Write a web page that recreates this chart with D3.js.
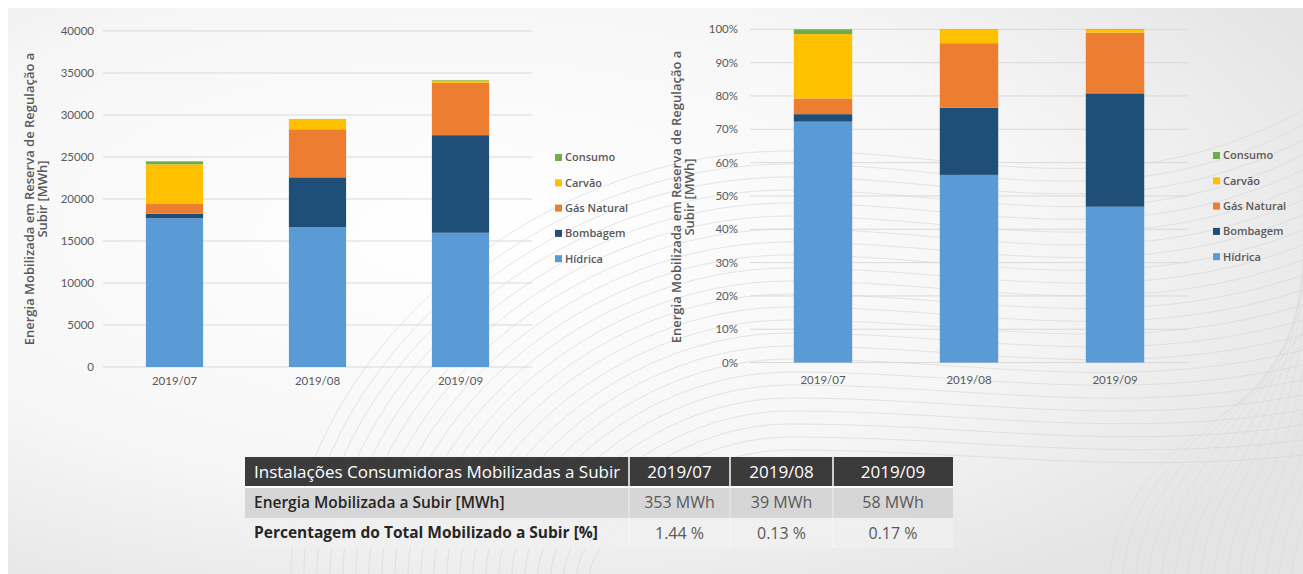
<!DOCTYPE html>
<html><head><meta charset="utf-8">
<script src="https://cdn.jsdelivr.net/npm/d3@7"></script>
<style>
html,body{margin:0;padding:0;background:#fff;}
svg{display:block;font-family:Lato,"Open Sans",sans-serif;}
</style></head>
<body>
<svg id="chart" width="1303" height="574"></svg>
<script>
// ---- data ----
const categories = ["2019/07", "2019/08", "2019/09"];
const seriesNames = ["Hídrica", "Bombagem", "Gás Natural", "Carvão", "Consumo"];
const hidrica    = [17700, 16630, 15980];
const bombagem   = [550, 5950, 11620];
const gasNatural = [1150, 5720, 6230];
const carvao     = [4730, 1190, 280];
const consumo    = [353, 39, 58];
const absTicks = [0, 5000, 10000, 15000, 20000, 25000, 30000, 35000, 40000];
const pctTicks = [0, 0.1, 0.2, 0.3, 0.4, 0.5, 0.6, 0.7, 0.8, 0.9, 1.0];
const yAxisTitle = ["Energia Mobilizada em Reserva de Regulação a", "Subir [MWh]"];
const tableHeader = ["Instalações Consumidoras Mobilizadas a Subir", "2019/07", "2019/08", "2019/09"];
const tableRowLabels = ["Energia Mobilizada a Subir [MWh]", "Percentagem do Total Mobilizado a Subir [%]"];
const energiaConsumo = ["353 MWh", "39 MWh", "58 MWh"];
const percentConsumo = ["1.44 %", "0.13 %", "0.17 %"];

const colors = {"Hídrica":"#5b9bd5","Bombagem":"#1f4e79","Gás Natural":"#ed7d31","Carvão":"#ffc000","Consumo":"#70ad47"};
const seriesValues = [hidrica, bombagem, gasNatural, carvao, consumo];

const rows = categories.map((c, i) => {
  const r = {cat: c};
  seriesNames.forEach((s, k) => r[s] = seriesValues[k][i]);
  return r;
});
const totals = rows.map(r => d3.sum(seriesNames, s => r[s]));
const pctRows = rows.map((r, i) => {
  const o = {cat: r.cat};
  seriesNames.forEach(s => o[s] = r[s] / totals[i]);
  return o;
});

const svg = d3.select("#chart");
const txt = "#595959";

// ---- background ----
const defs = svg.append("defs");
const rg = defs.append("radialGradient").attr("id","bg").attr("cx","35%").attr("cy","40%").attr("r","75%");
rg.append("stop").attr("offset","0%").attr("stop-color","#ffffff");
rg.append("stop").attr("offset","60%").attr("stop-color","#f6f6f6");
rg.append("stop").attr("offset","100%").attr("stop-color","#e4e4e4");
svg.append("rect").attr("x",8).attr("y",8).attr("width",1295).attr("height",566).attr("fill","url(#bg)");

// decorative curves (background ornament)
const deco = svg.append("g").attr("fill","none").attr("stroke","#d6d6d6").attr("stroke-width",0.8);
d3.range(0, 24).forEach(i => {
  const r = 200 + i * 13;
  const cx = 790, cy = 650;
  const top = cy - r;
  deco.append("path").attr("d",
    `M${cx - r},574 C${cx - r},${cy - r*0.55} ${cx - r*0.55},${top} ${cx},${top} C${cx + 180},${top} ${cx + 330},${top + 25 + i*1.5} 1303,${top + 5 - i*2}`)
    .attr("opacity", 0.8);
});
d3.range(0, 16).forEach(i => {
  const x0 = 1110 + i * 13;
  deco.append("path").attr("d", `M${x0},574 C${x0 + 10},470 ${x0 + 90},430 1303,${360 - i*14}`).attr("opacity",0.6);
});

// ---- stacked chart helper ----
function drawChart(opts) {
  const g = svg.append("g");
  const x = d3.scaleBand().domain(categories).range(opts.xr).paddingInner(0.6).paddingOuter(0.3);
  const y = d3.scaleLinear().domain(opts.yd).range(opts.yr);
  g.append("g").selectAll("line").data(opts.ticks).join("line")
    .attr("x1", opts.xr[0]).attr("x2", opts.xr[1])
    .attr("y1", d => y(d)).attr("y2", d => y(d))
    .attr("stroke", "#d9d9d9").attr("stroke-width", 1);
  const ya = d3.axisLeft(y).tickValues(opts.ticks).tickFormat(opts.fmt).tickSize(0).tickPadding(0);
  const yg = g.append("g").attr("transform", `translate(${opts.labelX},0)`).call(ya);
  yg.select(".domain").remove();
  yg.selectAll("text").attr("fill", txt).attr("font-size", 11.5).attr("font-family","Lato");
  const stack = d3.stack().keys(seriesNames)(opts.data);
  g.append("g").selectAll("g").data(stack).join("g")
    .attr("fill", d => colors[d.key])
    .selectAll("rect").data(d => d).join("rect")
    .attr("x", d => x(d.data.cat)).attr("width", x.bandwidth())
    .attr("y", d => y(d[1])).attr("height", d => Math.max(0, y(d[0]) - y(d[1])));
  const xa = d3.axisBottom(x).tickSize(0).tickPadding(0);
  const xg = g.append("g").attr("transform", `translate(0,${opts.xLabelY})`).call(xa);
  xg.select(".domain").remove();
  xg.selectAll("text").attr("fill", txt).attr("font-size", 11.5).attr("font-family","Lato").attr("dy","0.35em");
  const t = g.append("text").attr("transform", `translate(${opts.titleX},${opts.titleY}) rotate(-90)`)
    .attr("text-anchor","middle").attr("fill", txt).attr("font-family","Open Sans")
    .attr("font-weight","600").attr("font-size", 13);
  yAxisTitle.forEach((l, i) => t.append("tspan").attr("x",0).attr("dy", i === 0 ? 0 : 12.5).text(l));
  const lg = g.append("g");
  const leg = seriesNames.slice().reverse();
  leg.forEach((s, i) => {
    const cy = opts.legY + i * 25.3;
    lg.append("rect").attr("x", opts.legX).attr("y", cy - 3.5).attr("width", 7).attr("height", 7).attr("fill", colors[s]);
    lg.append("text").attr("x", opts.legX + 10).attr("y", cy).attr("dy","0.35em")
      .attr("fill", txt).attr("font-family","Open Sans").attr("font-size", 11).attr("font-weight","600").text(s);
  });
}

drawChart({data: rows, xr:[103,532], yd:[0,40000], yr:[367,31], ticks:absTicks,
  fmt: d3.format("d"), labelX: 94, xLabelY: 381, titleX: 34, titleY: 199, legX: 555, legY: 157.5});
drawChart({data: pctRows, xr:[750,1188], yd:[0,1], yr:[362.6,29.3], ticks:pctTicks,
  fmt: d3.format(".0%"), labelX: 738, xLabelY: 380, titleX: 681, titleY: 197, legX: 1213, legY: 155.5});

// ---- table ----
const colX = [245, 629, 730, 833, 953];
const rowY = [457, 487, 518, 548];
const tg = svg.append("g").attr("font-family","Open Sans");
tg.append("rect").attr("x", colX[0]).attr("y", rowY[0]).attr("width", colX[4]-colX[0]).attr("height", rowY[1]-rowY[0]).attr("fill","#3b3b3b");
tg.append("rect").attr("x", colX[0]).attr("y", rowY[1]).attr("width", colX[4]-colX[0]).attr("height", rowY[2]-rowY[1]).attr("fill","#d6d6d6");
tg.append("rect").attr("x", colX[0]).attr("y", rowY[2]).attr("width", colX[4]-colX[0]).attr("height", rowY[3]-rowY[2]).attr("fill","#efefef").attr("opacity",0.9);
[1,2,3].forEach(i => {
  tg.append("line").attr("x1", colX[i]).attr("x2", colX[i]).attr("y1", rowY[0]).attr("y2", rowY[1]).attr("stroke","#ffffff").attr("stroke-width",1.5);
  tg.append("line").attr("x1", colX[i]).attr("x2", colX[i]).attr("y1", rowY[1]).attr("y2", rowY[3]).attr("stroke","#ffffff").attr("stroke-width",1).attr("opacity",0.6);
});
tg.append("line").attr("x1", colX[0]).attr("x2", colX[4]).attr("y1", rowY[1]).attr("y2", rowY[1]).attr("stroke","#ffffff").attr("stroke-width",2);
tableHeader.forEach((h, i) => {
  tg.append("text").attr("x", i === 0 ? colX[0] + 9 : (colX[i] + colX[i+1]) / 2)
    .attr("y", (rowY[0] + rowY[1]) / 2).attr("dy","0.35em")
    .attr("text-anchor", i === 0 ? "start" : "middle")
    .attr("fill","#ffffff").attr("font-size", 17).text(h);
});
[energiaConsumo, percentConsumo].forEach((vals, r) => {
  const cy = (rowY[r+1] + rowY[r+2]) / 2;
  tg.append("text").attr("x", colX[0] + 9).attr("y", cy).attr("dy","0.35em")
    .attr("fill","#262626").attr("font-size", 15.5).attr("font-weight", r === 1 ? "700" : "600").text(tableRowLabels[r]);
  vals.forEach((v, i) => {
    tg.append("text").attr("x", (colX[i+1] + colX[i+2]) / 2).attr("y", cy).attr("dy","0.35em")
      .attr("text-anchor","middle").attr("fill","#595959").attr("font-size", 16).text(v);
  });
});
</script>
</body></html>
